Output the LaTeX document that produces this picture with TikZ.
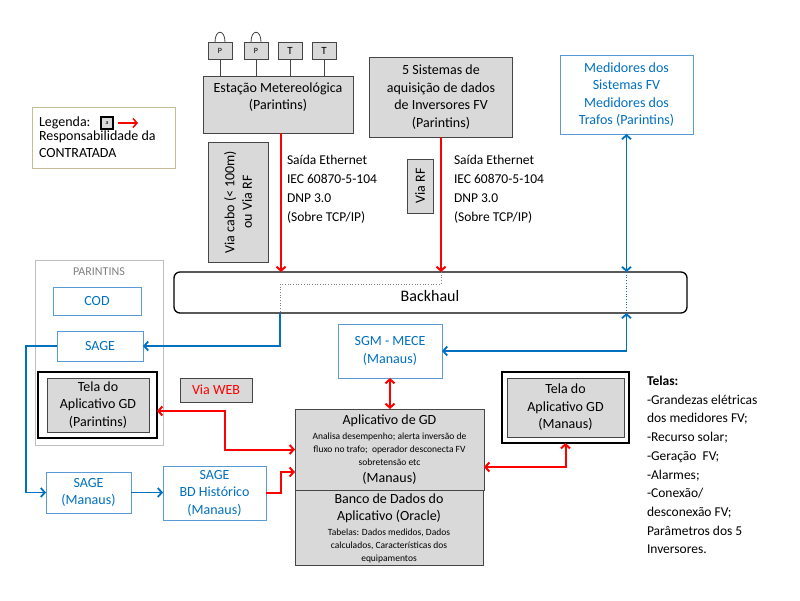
\documentclass[tikz,border=0pt]{standalone}
\usepackage{fontspec}
\setmainfont{Carlito}
\usetikzlibrary{arrows.meta}
\definecolor{fillgray}{RGB}{217,217,217}
\definecolor{bluetxt}{RGB}{0,112,192}
\definecolor{blueline}{RGB}{0,112,192}
\definecolor{blueborder}{RGB}{91,155,213}
\definecolor{darkborder}{RGB}{70,70,70}
\definecolor{legborder}{RGB}{196,189,151}
\definecolor{grpborder}{RGB}{191,191,191}
\definecolor{grptxt}{RGB}{128,128,128}
\newcommand{\fsz}[2]{\fontsize{#1pt}{#2pt}\selectfont}
\begin{document}
\begin{tikzpicture}[x=1pt,y=-1pt,
  every node/.style={inner sep=0pt, outer sep=0pt},
  graybox/.style={draw=darkborder, fill=fillgray, line width=0.7pt},
  bluebox/.style={draw=blueborder, fill=white, line width=1pt},
  txt/.style={align=center, font=\fsz{14}{17.5}},
  btxt/.style={txt, text=bluetxt},
  smalltxt/.style={align=center, font=\fsz{9.5}{13}},
  redln/.style={draw=red, line width=2pt},
  blueln/.style={draw=blueline, line width=1.8pt},
  thinln/.style={draw=darkborder, line width=0.8pt},
  dotln/.style={draw=gray, line width=0.7pt, dotted},
  >={Straight Barb[length=4pt,width=9pt]}
]
\useasboundingbox[fill=white] (0,0) rectangle (800,600);

% ---- sensors and station
\node[graybox, minimum width=150pt, minimum height=57pt] (est) at (278,104.5) {};
\node[txt] (esttxt) at (278,97) {Estação Metereológica\\(Parintins)};
\foreach \nm/\cx/\lb/\fs in {p1/220/P/8, p2/256/P/8, t1/290/T/11, t2/324/T/11}{
  \node[graybox, minimum width=24pt, minimum height=17pt, font=\fsz{\fs}{\fs}] (\nm) at (\cx,50.5) {\lb};
  \draw[thinln] (\nm.south) -- (\nm.south |- est.north);
}
\foreach \nm in {p1,p2}{
  \draw[thinln] ([xshift=-5pt]\nm.north) .. controls ([xshift=-5pt,yshift=13pt]\nm.north) and ([xshift=5pt,yshift=13pt]\nm.north) .. ([xshift=5pt]\nm.north);
}

\node[graybox, minimum width=143pt, minimum height=80pt, txt] (sis) at (441,97) {5 Sistemas de\\aquisição de dados\\de Inversores FV\\(Parintins)};
\node[bluebox, minimum width=133pt, minimum height=79pt, btxt] (med) at (626.5,94.5) {Medidores dos\\Sistemas FV\\Medidores dos\\Trafos (Parintins)};

% ---- legend
\node[draw=legborder, line width=0.8pt, minimum width=143pt, minimum height=61pt] (leg) at (103.5,137.5) {};
\node[font=\fsz{14}{17.5}, anchor=west] (legt) at (39,123) {Legenda:};
\node[draw=black, line width=1.3pt, fill=fillgray, minimum size=12pt, font=\fsz{6}{6}] (legicon) at (107,123) {a};
\coordinate (legarr) at (138,123);
\draw[draw=red, line width=1.5pt, ->] ([xshift=5pt]legicon.east) -- (legarr);
\node[font=\fsz{14}{17}, anchor=north west, align=left] (legt2) at (39,131) {Responsabilidade da\\CONTRATADA};

% ---- via boxes and labels
\node[graybox, minimum width=60pt, minimum height=120pt] (viacabo) at (238,202) {};
\node[txt, rotate=90] (viacabotxt) at (238,202) {Via cabo (< 100m)\\ou Via RF};
\node[graybox, minimum width=26pt, minimum height=54pt] (viarf) at (420,186) {};
\node[txt, rotate=90] (viarftxt) at (420,186) {Via RF};
\node[align=left, font=\fsz{13.5}{19}, anchor=west] (said1) at (287,189) {Saída Ethernet\\IEC 60870-5-104\\DNP 3.0\\(Sobre TCP/IP)};
\node[align=left, font=\fsz{13.5}{19}, anchor=west] (said2) at (454,189) {Saída Ethernet\\IEC 60870-5-104\\DNP 3.0\\(Sobre TCP/IP)};

% ---- backhaul
\node[draw=black, line width=1.3pt, rounded corners=6pt, minimum width=513pt, minimum height=41pt] (back) at (430.5,292.5) {};
\node[font=\fsz{16}{18}] (backtxt) at (430,296) {Backhaul};
\coordinate (bk1) at (280,313);
\draw[dotln] (sis.south |- back.north) -- ++(0,12) -| (bk1);
\draw[draw=blueline, line width=0.7pt, dotted] (med.south |- back.north) -- (med.south |- back.south);

% ---- Parintins group
\node[draw=grpborder, line width=0.8pt, minimum width=128pt, minimum height=185pt] (grp) at (99,352.5) {};
\node[font=\fsz{12}{14}, text=grptxt] (grptxt) at (99,272) {PARINTINS};
\node[bluebox, minimum width=88pt, minimum height=28pt, btxt] (cod) at (97,301) {COD};
\node[bluebox, minimum width=86pt, minimum height=30pt, btxt] (sageP) at (100,346) {SAGE};
\node[draw=black, line width=2.5pt, fill=white, minimum width=119pt, minimum height=66pt] (telaP) at (97.5,405) {};
\node[graybox, minimum width=102pt, minimum height=54pt, txt] (telaPin) at (98,405) {Tela do\\Aplicativo GD\\(Parintins)};

\node[graybox, minimum width=72pt, minimum height=24pt, txt, text=red] (web) at (216,390) {Via WEB};

% ---- Manaus side
\node[bluebox, minimum width=104pt, minimum height=54pt, btxt] (sgm) at (390,351) {SGM - MECE\\(Manaus)};
\node[graybox, minimum width=189pt, minimum height=81pt] (app) at (389.5,449.5) {};
\node[font=\fsz{14}{16}] (apptitle) at (389.5,421) {Aplicativo de GD};
\node[smalltxt] (appsmall) at (389.5,449) {Analisa desempenho; alerta inversão de\\fluxo no trafo;~ operador desconecta FV\\sobretensão etc};
\node[font=\fsz{14}{16}] (appman) at (389.5,478) {(Manaus)};
\node[graybox, minimum width=188pt, minimum height=75pt] (bd) at (389,527.5) {};
\node[txt] (bdtitle) at (389,508.5) {Banco de Dados do\\Aplicativo (Oracle)};
\node[smalltxt] (bdsmall) at (389,546) {Tabelas: Dados medidos, Dados\\calculados, Características dos\\equipamentos};

\node[draw=black, line width=2.5pt, fill=white, minimum width=127pt, minimum height=71pt] (telaM) at (565.5,407.5) {};
\node[graybox, minimum width=117pt, minimum height=59pt, txt] (telaMin) at (565.5,407.5) {Tela do\\Aplicativo GD\\(Manaus)};

\node[bluebox, minimum width=85pt, minimum height=41pt, btxt] (sageM) at (88.5,492.5) {SAGE\\(Manaus)};
\node[bluebox, minimum width=103pt, minimum height=54pt, btxt] (sageBD) at (214.5,493) {SAGE\\BD Histórico\\(Manaus)};

\node[align=left, font=\fsz{13.5}{18.7}, anchor=west] (telas) at (647,465) {\textbf{Telas:}\\-Grandezas elétricas\\dos medidores FV;\\-Recurso solar;\\-Geração~ FV;\\-Alarmes;\\-Conexão/\\desconexão FV;\\Parâmetros dos 5\\Inversores.};

% ---- connectors
\draw[redln, ->] ([xshift=3pt]est.south) -- ([xshift=3pt]est.south |- back.north);
\draw[redln, ->] (sis.south) -- (sis.south |- back.north);
\draw[blueln, <->] (med.south) -- (med.south |- back.north);
\draw[blueln, <->] (sgm.east) -- (sgm.east -| med.south) -- (med.south |- back.south);
\draw[blueln, ->] (bk1) |- (sageP.east);
\draw[blueln, ->] (sageP.west) -- ++(-31,0) |- (sageM.west);
\draw[blueln, ->] (sageM.east) -- (sageM.east -| sageBD.west);
\draw[redln, ->] (sageBD.east) -- ++(15,0) |- ([yshift=-22.5pt]app.west);
\draw[redln, <->] ([yshift=-6pt]telaP.east) -- ++(68,0) |- (app.west);
\draw[redln, <->] (sgm.south) -- (sgm.south |- app.north);
\draw[redln, <->] ([yshift=-17.5pt]app.east) -| (telaM.south);
\end{tikzpicture}
\end{document}
